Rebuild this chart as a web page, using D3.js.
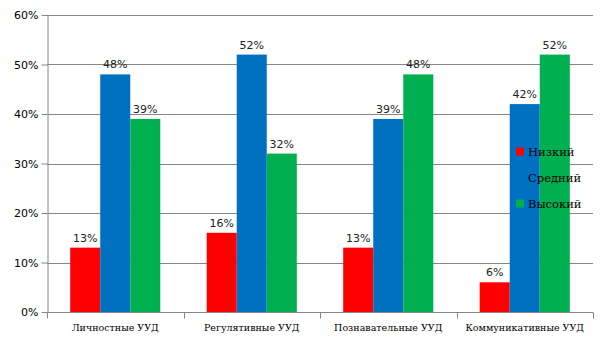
<!DOCTYPE html>
<html>
<head>
<meta charset="utf-8">
<script src="https://cdn.jsdelivr.net/npm/d3@7"></script>
<style>
  html, body { margin: 0; padding: 0; background: #fff; }
  svg { display: block; }
</style>
</head>
<body>
<script>
// Уровни сформированности УУД
const categories = ["Личностные УУД", "Регулятивные УУД", "Познавательные УУД", "Коммуникативные УУД"];
const seriesNames = ["Низкий", "Средний", "Высокий"];
const low = [13, 16, 13, 6];
const mid = [48, 52, 39, 42];
const high = [39, 32, 48, 52];
const yTicks = [0, 10, 20, 30, 40, 50, 60];
const colors = ["#ff0000", "#0070c0", "#00b050"];

const W = 605, H = 340;
const margin = { left: 47, top: 15 };
const plotW = 593 - margin.left;
const plotH = 312 - margin.top;

const svg = d3.select("body").append("svg").attr("width", W).attr("height", H);
const g = svg.append("g").attr("transform", `translate(${margin.left},${margin.top})`);

const x = d3.scaleBand().domain(categories).range([0, plotW]).paddingInner(0).paddingOuter(0);
// three adjoining bars take up about two thirds of each category band
const groupW = x.bandwidth() * 0.66;
const groupOff = (x.bandwidth() - groupW) / 2;
const xs = d3.scaleBand().domain(seriesNames).range([groupOff, groupOff + groupW]).padding(0);
const y = d3.scaleLinear().domain([0, 60]).range([plotH, 0]);

// gridlines
g.append("g").selectAll("line").data(yTicks).join("line")
  .attr("x1", 0).attr("x2", plotW)
  .attr("y1", d => Math.round(y(d)) + 0.5).attr("y2", d => Math.round(y(d)) + 0.5)
  .attr("stroke", "#868686").attr("stroke-width", 1);

// y axis
const yAxis = g.append("g").attr("transform", "translate(0.5,0)")
  .call(d3.axisLeft(y).tickValues(yTicks).tickFormat(d => d + "%").tickSize(6).tickSizeOuter(0));
yAxis.select(".domain").attr("stroke", "#868686");
yAxis.selectAll(".tick line").attr("stroke", "#868686");
yAxis.selectAll(".tick text")
  .attr("font-family", "DejaVu Sans").attr("font-size", 11).attr("fill", "#000").attr("x", -9);

// bars
const series = [low, mid, high];
const groups = g.append("g").selectAll("g").data(categories).join("g")
  .attr("transform", d => `translate(${x(d)},0)`);

const cells = (c, i) => seriesNames.map((s, k) => ({ s, k, v: series[k][i] }));

groups.selectAll("rect").data(cells)
  .join("rect")
  .attr("x", d => xs(d.s))
  .attr("width", xs.bandwidth())
  .attr("y", d => y(d.v))
  .attr("height", d => plotH - y(d.v))
  .attr("fill", d => colors[d.k]);

groups.selectAll("text").data(cells)
  .join("text")
  .attr("x", d => xs(d.s) + xs.bandwidth() / 2)
  .attr("y", d => y(d.v) - 6)
  .attr("text-anchor", "middle")
  .attr("font-family", "DejaVu Sans").attr("font-size", 11).attr("fill", "#222")
  .text(d => d.v + "%");

// x axis
const xAxisG = g.append("g").attr("transform", `translate(0,${Math.round(plotH) + 0.5})`);
xAxisG.append("line").attr("x1", 0).attr("x2", plotW).attr("stroke", "#868686");
const boundaries = categories.map(c => x(c)).concat([plotW]);
xAxisG.selectAll("line.tk").data(boundaries).join("line").attr("class", "tk")
  .attr("x1", d => Math.round(d) + 0.5).attr("x2", d => Math.round(d) + 0.5)
  .attr("y1", 0).attr("y2", 6).attr("stroke", "#868686");
xAxisG.selectAll("text").data(categories).join("text")
  .attr("x", d => x(d) + x.bandwidth() / 2)
  .attr("y", 18)
  .attr("text-anchor", "middle")
  .attr("font-family", "DejaVu Serif").attr("font-size", 9.5).attr("fill", "#000")
  .text(d => d);

// legend
const legend = svg.append("g").attr("transform", "translate(516,152)");
const items = legend.selectAll("g").data(seriesNames).join("g")
  .attr("transform", (d, i) => `translate(0,${i * 26})`);
items.append("rect").attr("x", 0).attr("y", -4.5).attr("width", 8).attr("height", 8)
  .attr("fill", (d, i) => colors[i]);
items.append("text").attr("x", 12).attr("y", 4)
  .attr("font-family", "DejaVu Serif").attr("font-size", 11.5).attr("fill", "#000")
  .text(d => d);
</script>
</body>
</html>
